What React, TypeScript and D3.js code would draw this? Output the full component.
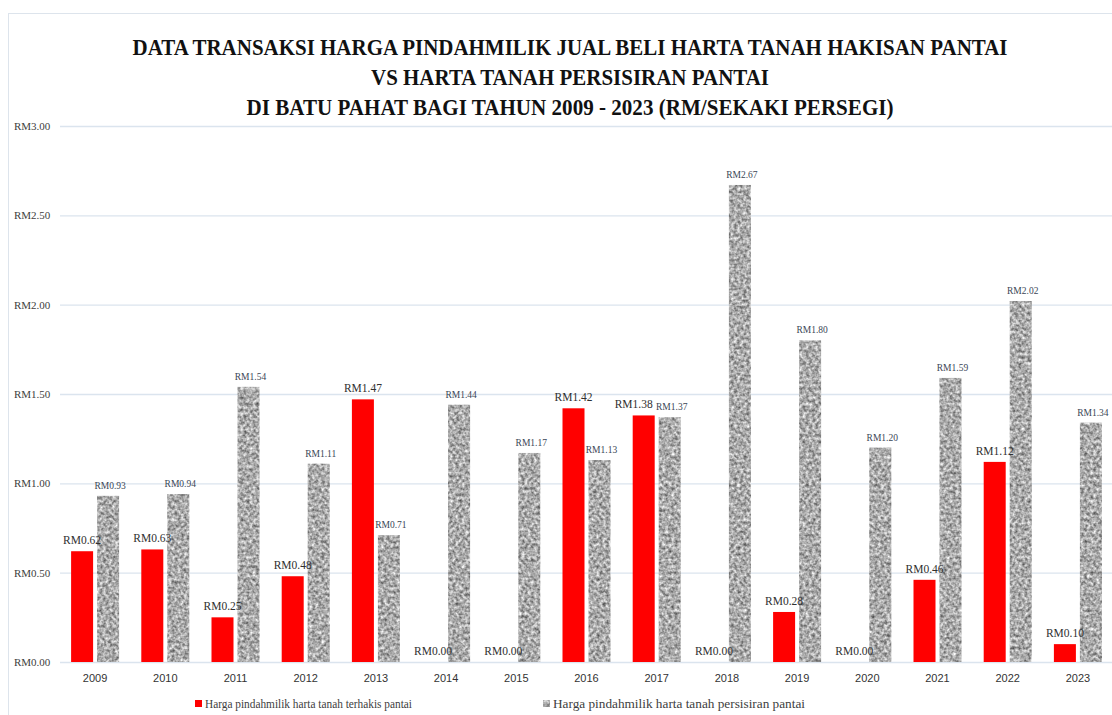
import * as d3 from "d3";
import { useEffect, useRef } from "react";

const years = ["2009","2010","2011","2012","2013","2014","2015","2016","2017","2018","2019","2020","2021","2022","2023"];
const terhakis = [0.62,0.63,0.25,0.48,1.47,0,0,1.42,1.38,0,0.28,0,0.46,1.12,0.10];
const persisiran = [0.93,0.94,1.54,1.11,0.71,1.44,1.17,1.13,1.37,2.67,1.80,1.20,1.59,2.02,1.34];
const yTicks = [0,0.5,1,1.5,2,2.5,3];
const titleLines = [
  "DATA TRANSAKSI HARGA PINDAHMILIK JUAL BELI HARTA TANAH HAKISAN PANTAI",
  "VS HARTA TANAH PERSISIRAN PANTAI",
  "DI BATU PAHAT BAGI TAHUN 2009 - 2023 (RM/SEKAKI PERSEGI)",
];
const legendNames = [
  "Harga  pindahmilik harta tanah terhakis pantai",
  "Harga pindahmilik harta tanah persisiran pantai",
];

export default function App() {
  const width = 1112;
  const height = 715;
  const marginLeft = 60;
  const marginRight = -1;
  const marginTop = 126;
  const marginBottom = 53;
  const svgRef = useRef<SVGSVGElement>(null);

  useEffect(() => {
    const svg = d3.select(svgRef.current);
    svg.selectAll("*").remove();

    const serif = "'Liberation Serif', 'Times New Roman', serif";

    // granite-like texture for the grey bars
    const defs = svg.append("defs");
    const f = defs.append("filter").attr("id", "grain")
      .attr("x", 0).attr("y", 0).attr("width", 1).attr("height", 1)
      .attr("color-interpolation-filters", "sRGB");
    f.append("feTurbulence").attr("type", "fractalNoise")
      .attr("baseFrequency", 0.32).attr("numOctaves", 2).attr("seed", 7).attr("result", "n");
    f.append("feColorMatrix").attr("in", "n").attr("type", "matrix")
      .attr("values", "0.9 0 0 0 0.22  0.9 0 0 0 0.22  0.9 0 0 0 0.22  0 0 0 0 1")
      .attr("result", "tex");
    f.append("feComposite").attr("in", "tex").attr("in2", "SourceGraphic").attr("operator", "in");

    // frame
    svg.append("rect")
      .attr("x", 8.5).attr("y", 13.5).attr("width", width).attr("height", height)
      .attr("fill", "none").attr("stroke", "#dde4ec");

    const x = d3.scaleBand(years, [marginLeft, width - marginRight]).paddingInner(0).paddingOuter(0);
    const y = d3.scaleLinear([0, 3], [height - marginBottom, marginTop]);
    const barW = 22;
    const gap = 4;

    // grid
    svg.append("g").selectAll("line").data(yTicks).join("line")
      .attr("x1", marginLeft).attr("x2", width)
      .attr("y1", d => y(d) + 0.5).attr("y2", d => y(d) + 0.5)
      .attr("stroke", "#dbe4ee").attr("stroke-width", 1.3);

    // y labels
    svg.append("g").selectAll("text").data(yTicks).join("text")
      .attr("x", 14).attr("y", d => y(d) + 4)
      .attr("font-family", serif).attr("font-size", 11).attr("fill", "#404040")
      .text(d => "RM" + d.toFixed(2));

    const cx = (i: number) => x(years[i])! + x.bandwidth() / 2;
    // labels of near-equal pairs get pushed apart, like Excel does
    const clash = (i: number) => Math.abs(terhakis[i] - persisiran[i]) < 0.06;

    // x labels
    svg.append("g").selectAll("text").data(years).join("text")
      .attr("x", (d, i) => cx(i)).attr("y", height - marginBottom + 20)
      .attr("text-anchor", "middle")
      .attr("font-family", "'Liberation Sans', Arial, sans-serif").attr("font-size", 11).attr("fill", "#333")
      .text(d => d);

    // red bars
    svg.append("g").selectAll("rect").data(terhakis).join("rect")
      .attr("x", (d, i) => cx(i) - gap / 2 - barW)
      .attr("y", d => y(d)).attr("width", barW)
      .attr("height", d => y(0) - y(d)).attr("fill", "#ff0000");

    // grey bars
    svg.append("g").selectAll("rect").data(persisiran).join("rect")
      .attr("x", (d, i) => cx(i) + gap / 2)
      .attr("y", d => y(d)).attr("width", barW)
      .attr("height", d => y(0) - y(d)).attr("fill", "#999")
      .attr("filter", "url(#grain)");

    // labels
    svg.append("g").selectAll("text").data(terhakis).join("text")
      .attr("x", (d, i) => cx(i) - gap / 2 - barW / 2 - (clash(i) ? 10 : 0))
      .attr("y", d => y(d) - 7)
      .attr("text-anchor", "middle")
      .attr("font-family", serif).attr("font-size", 11.5).attr("fill", "#303030")
      .text(d => "RM" + d.toFixed(2));

    svg.append("g").selectAll("text").data(persisiran).join("text")
      .attr("x", (d, i) => cx(i) + gap / 2 + barW / 2 + 2)
      .attr("y", d => y(d) - 7)
      .attr("text-anchor", "middle")
      .attr("font-family", serif).attr("font-size", 9.5).attr("fill", "#3a4656")
      .text(d => "RM" + d.toFixed(2));

    // title
    const tw = [875, 398, 647];
    svg.append("g").selectAll("text").data(titleLines).join("text")
      .attr("x", 570).attr("y", (d, i) => 55 + i * 30)
      .attr("text-anchor", "middle")
      .attr("font-family", serif).attr("font-weight", "bold").attr("font-size", 23)
      .attr("fill", "#111")
      .attr("textLength", (d, i) => tw[i]).attr("lengthAdjust", "spacingAndGlyphs")
      .text(d => d);

    // legend
    const lg = svg.append("g");
    lg.append("rect").attr("x", 195).attr("y", 700).attr("width", 7).attr("height", 7).attr("fill", "#ff0000");
    lg.append("rect").attr("x", 543).attr("y", 700).attr("width", 7).attr("height", 7).attr("fill", "#999").attr("filter", "url(#grain)");
    lg.selectAll("text").data(legendNames).join("text")
      .attr("x", (d, i) => i === 0 ? 205 : 553).attr("y", 708)
      .attr("font-family", serif).attr("font-size", 11.5).attr("fill", "#404040")
      .attr("textLength", (d, i) => i === 0 ? 207 : 252).attr("lengthAdjust", "spacingAndGlyphs")
      .text(d => d);
  }, []);

  return (
    <div style={{ position: "absolute", left: 0, top: 0, background: "#fff" }}>
      <svg ref={svgRef} width={width} height={height} style={{ display: "block" }} xmlns="http://www.w3.org/2000/svg" />
    </div>
  );
}
